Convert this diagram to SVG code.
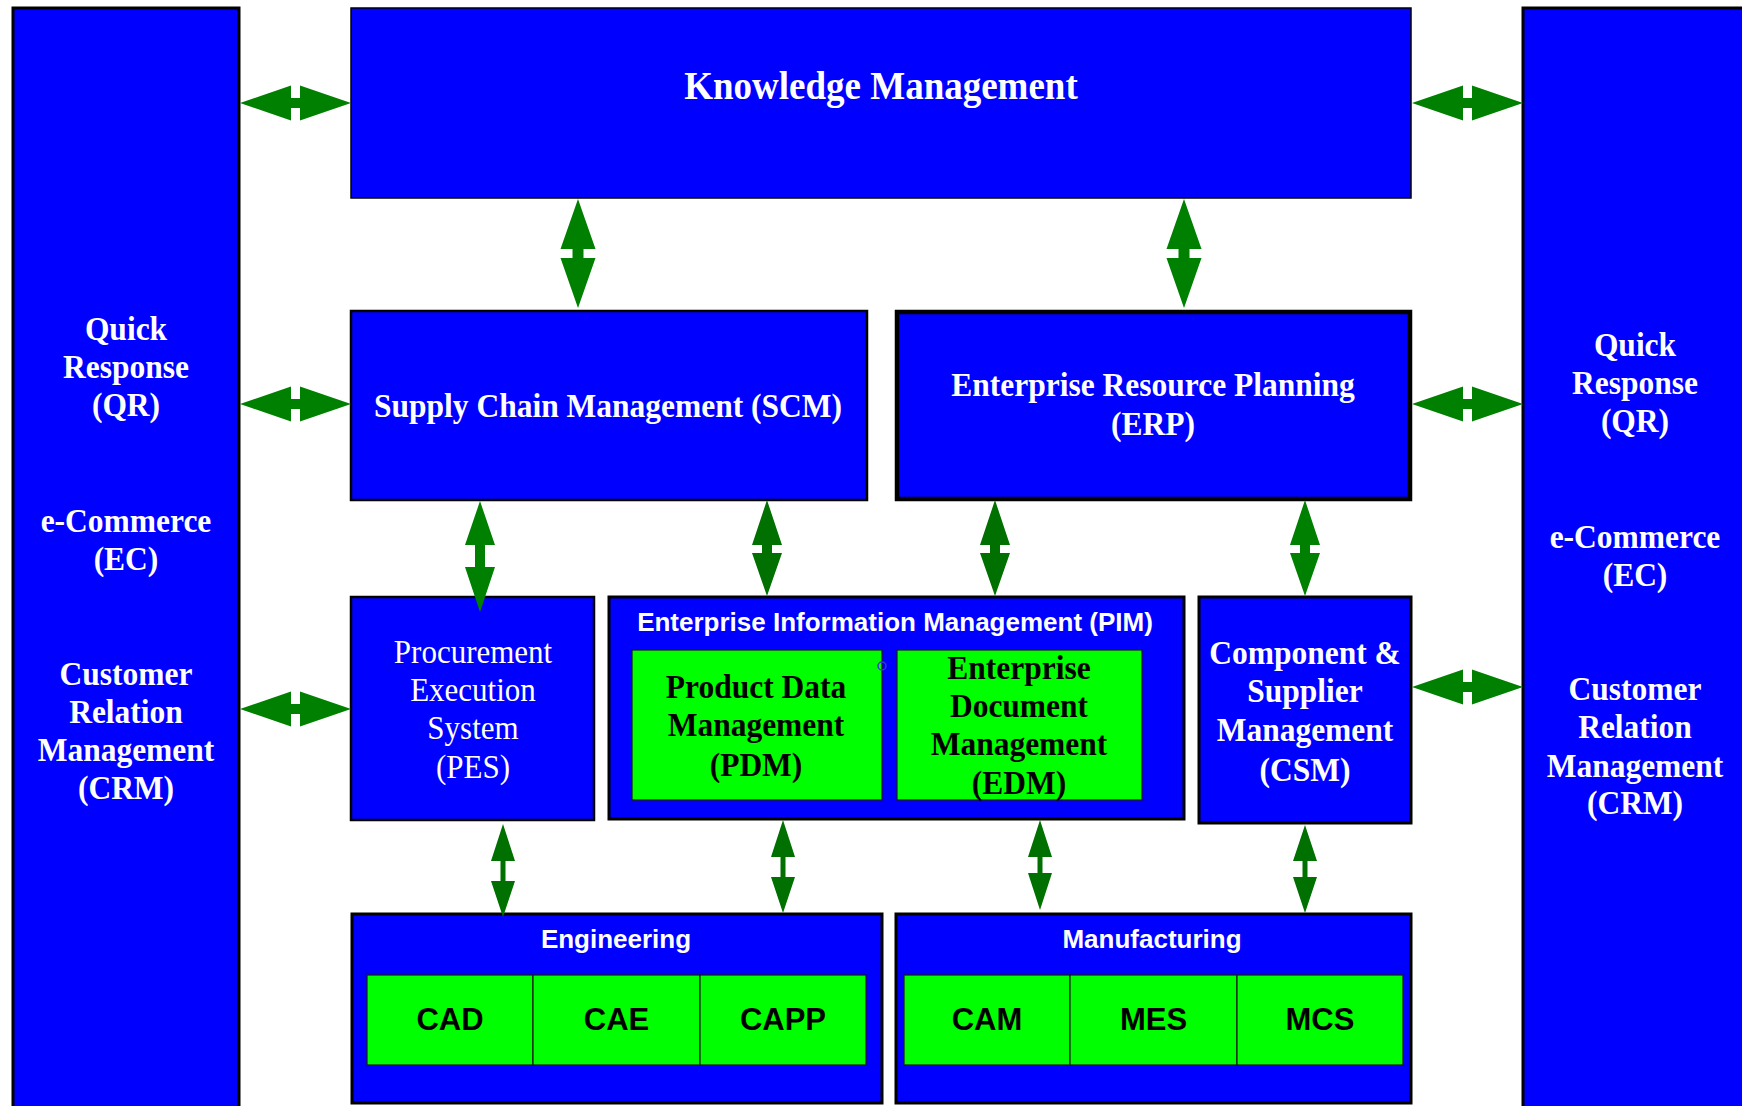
<svg xmlns="http://www.w3.org/2000/svg" width="1742" height="1106" viewBox="0 0 1742 1106">
<style>
.bx{fill:#0000FF;stroke:#000}
.gr{fill:#00FF00;stroke:#1a1a1a;stroke-width:1.2}
.sb,.sbk,.sr{transform-box:fill-box;transform-origin:center;transform:scaleY(1.08)}
.sb{font-family:"Liberation Serif","Times New Roman",serif;font-weight:bold;fill:#fff;text-anchor:middle;font-size:31.5px}
.sbk{font-family:"Liberation Serif","Times New Roman",serif;font-weight:bold;fill:#000;text-anchor:middle;font-size:31.5px}
.sr{font-family:"Liberation Serif","Times New Roman",serif;fill:#fff;text-anchor:middle;font-size:31px}
.ssw{font-family:"Liberation Sans",Arial,sans-serif;font-weight:bold;fill:#fff;text-anchor:middle;font-size:26px}
.ssk{font-family:"Liberation Sans",Arial,sans-serif;font-weight:bold;fill:#000;text-anchor:middle;font-size:31px}
.a1{fill:#008000}
.a2{fill:#007000}
</style>
<rect width="1742" height="1106" fill="#fff"/>

<g id="left-column">
<rect class="bx" x="13" y="8" width="226" height="1110" stroke-width="3"/>
<text class="sb" x="126" y="339">Quick</text>
<text class="sb" x="126" y="377">Response</text>
<text class="sb" x="126" y="415">(QR)</text>
<text class="sb" x="126" y="531">e-Commerce</text>
<text class="sb" x="126" y="569">(EC)</text>
<text class="sb" x="126" y="684">Customer</text>
<text class="sb" x="126" y="722">Relation</text>
<text class="sb" x="126" y="760">Management</text>
<text class="sb" x="126" y="798">(CRM)</text>
</g>

<g id="right-column">
<rect class="bx" x="1523" y="8" width="240" height="1110" stroke-width="3"/>
<text class="sb" x="1635" y="355">Quick</text>
<text class="sb" x="1635" y="393">Response</text>
<text class="sb" x="1635" y="431">(QR)</text>
<text class="sb" x="1635" y="547">e-Commerce</text>
<text class="sb" x="1635" y="585">(EC)</text>
<text class="sb" x="1635" y="699">Customer</text>
<text class="sb" x="1635" y="737">Relation</text>
<text class="sb" x="1635" y="776">Management</text>
<text class="sb" x="1635" y="813">(CRM)</text>
</g>

<g id="knowledge-management">
<rect class="bx" x="351" y="8" width="1060" height="190" stroke-width="1.5"/>
<text class="sb" x="881" y="98" style="font-size:37px">Knowledge Management</text>
</g>

<g id="scm">
<rect class="bx" x="351" y="311" width="516" height="189" stroke-width="2.5"/>
<text class="sb" x="608" y="416">Supply Chain Management (SCM)</text>
</g>

<g id="erp">
<rect class="bx" x="897" y="312" width="513" height="187" stroke-width="4.5"/>
<text class="sb" x="1153" y="395">Enterprise Resource Planning</text>
<text class="sb" x="1153" y="434">(ERP)</text>
</g>

<g id="pes">
<rect class="bx" x="351" y="597" width="243" height="223" stroke-width="2.5"/>
<text class="sr" x="473" y="662">Procurement</text>
<text class="sr" x="473" y="700">Execution</text>
<text class="sr" x="473" y="738">System</text>
<text class="sr" x="473" y="777">(PES)</text>
</g>

<g id="pim">
<rect class="bx" x="609" y="597" width="575" height="222" stroke-width="3"/>
<text class="ssw" x="895" y="631">Enterprise Information Management (PIM)</text>
</g>

<g id="pdm">
<rect class="gr" x="632" y="650" width="250" height="150"/>
<text class="sbk" x="756" y="697">Product Data</text>
<text class="sbk" x="756" y="735">Management</text>
<text class="sbk" x="756" y="775">(PDM)</text>
<circle cx="882" cy="666" r="4" fill="none" stroke="#3a3ad0" stroke-width="1.5"/>
</g>

<g id="edm">
<rect class="gr" x="897" y="650" width="245" height="150"/>
<text class="sbk" x="1019" y="678">Enterprise</text>
<text class="sbk" x="1019" y="716">Document</text>
<text class="sbk" x="1019" y="754">Management</text>
<text class="sbk" x="1019" y="793">(EDM)</text>
</g>

<g id="csm">
<rect class="bx" x="1199" y="597" width="212" height="226" stroke-width="3"/>
<text class="sb" x="1305" y="663">Component &amp;</text>
<text class="sb" x="1305" y="701">Supplier</text>
<text class="sb" x="1305" y="740">Management</text>
<text class="sb" x="1305" y="780">(CSM)</text>
</g>

<g id="engineering">
<rect class="bx" x="352" y="914" width="530" height="189" stroke-width="3"/>
<text class="ssw" x="616" y="948">Engineering</text>
<rect class="gr" x="367" y="975" width="166" height="90"/>
<rect class="gr" x="533" y="975" width="167" height="90"/>
<rect class="gr" x="700" y="975" width="166" height="90"/>
<text class="ssk" x="450" y="1030">CAD</text>
<text class="ssk" x="616.5" y="1030">CAE</text>
<text class="ssk" x="783" y="1030">CAPP</text>
</g>

<g id="manufacturing">
<rect class="bx" x="896" y="914" width="515" height="189" stroke-width="3"/>
<text class="ssw" x="1152" y="948">Manufacturing</text>
<rect class="gr" x="904" y="975" width="166" height="90"/>
<rect class="gr" x="1070" y="975" width="167" height="90"/>
<rect class="gr" x="1237" y="975" width="166" height="90"/>
<text class="ssk" x="987" y="1030">CAM</text>
<text class="ssk" x="1153.5" y="1030">MES</text>
<text class="ssk" x="1320" y="1030">MCS</text>
</g>

<g id="connectors">
<polygon class="a1" points="240,103 291,85.5 291,98 300,98 300,85.5 351,103 300,120.5 300,108 291,108 291,120.5"/>
<polygon class="a1" points="240,404 291,386.5 291,399 300,399 300,386.5 351,404 300,421.5 300,409 291,409 291,421.5"/>
<polygon class="a1" points="240,709 291,691.5 291,704 300,704 300,691.5 351,709 300,726.5 300,714 291,714 291,726.5"/>
<polygon class="a1" points="1412,103 1463,85.5 1463,98 1472,98 1472,85.5 1523,103 1472,120.5 1472,108 1463,108 1463,120.5"/>
<polygon class="a1" points="1412,404 1463,386.5 1463,399 1472,399 1472,386.5 1523,404 1472,421.5 1472,409 1463,409 1463,421.5"/>
<polygon class="a1" points="1412,687 1463,669.5 1463,682 1472,682 1472,669.5 1523,687 1472,704.5 1472,692 1463,692 1463,704.5"/>
<polygon class="a1" points="578,199 595.5,249 583.5,249 583.5,258 595.5,258 578,308 560.5,258 572.5,258 572.5,249 560.5,249"/>
<polygon class="a1" points="1184,199 1201.5,249 1189.5,249 1189.5,258 1201.5,258 1184,308 1166.5,258 1178.5,258 1178.5,249 1166.5,249"/>
<polygon class="a1" points="480,501 495,545 485,545 485,567 495,567 480,612 465,567 475,567 475,545 465,545"/>
<polygon class="a2" points="767,500 782,545 772,545 772,553 782,553 767,596 752,553 762,553 762,545 752,545"/>
<polygon class="a2" points="995,500 1010,545 1000,545 1000,553 1010,553 995,596 980,553 990,553 990,545 980,545"/>
<polygon class="a1" points="1305,500 1320,545 1310,545 1310,553 1320,553 1305,596 1290,553 1300,553 1300,545 1290,545"/>
<polygon class="a2" points="503,824 515,861 505.5,861 505.5,881 515,881 503,917 491,881 500.5,881 500.5,861 491,861"/>
<polygon class="a2" points="783,820 795,857 785.5,857 785.5,877 795,877 783,913 771,877 780.5,877 780.5,857 771,857"/>
<polygon class="a2" points="1040,820 1052,857 1042.5,857 1042.5,873 1052,873 1040,910 1028,873 1037.5,873 1037.5,857 1028,857"/>
<polygon class="a2" points="1305,825 1317,861 1307.5,861 1307.5,877 1317,877 1305,913 1293,877 1302.5,877 1302.5,861 1293,861"/>
</g>
</svg>
